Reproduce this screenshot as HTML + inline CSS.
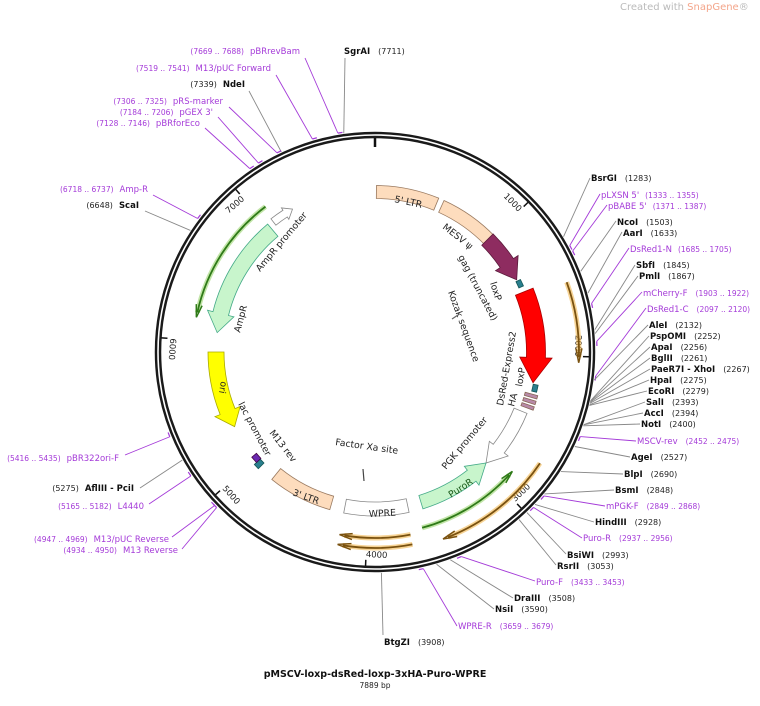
<!DOCTYPE html>
<html><head><meta charset="utf-8"><style>
html,body{margin:0;padding:0;background:#fff;width:760px;height:706px;overflow:hidden}
svg{display:block;font-family:"DejaVu Sans","Liberation Sans",sans-serif}
.p{fill:#a43ad8;font-size:8.5px}
.pn{fill:#a43ad8;font-size:7.5px}
.b{fill:#111;font-size:8.5px;font-weight:bold}
.n{fill:#222;font-size:8px}
.f{fill:#222;font-size:9.3px}
</style></head><body>
<svg id="s" width="760" height="706" viewBox="0 0 760 706" xmlns="http://www.w3.org/2000/svg">
<g id="lines"></g>
<g id="feat"></g>
<text x="620" y="10" style="font-size:10px;fill:#bbb">Created with <tspan fill="#f4a58a">SnapGene</tspan>®</text>

<text x="591" y="181"><tspan class="b">BsrGI</tspan><tspan class="n" dx="8">(1283)</tspan></text>
<text x="601" y="198"><tspan class="p">pLXSN 5'</tspan><tspan class="pn" dx="6">(1333 .. 1355)</tspan></text>
<text x="608" y="209"><tspan class="p">pBABE 5'</tspan><tspan class="pn" dx="6">(1371 .. 1387)</tspan></text>
<text x="617" y="225"><tspan class="b">NcoI</tspan><tspan class="n" dx="8">(1503)</tspan></text>
<text x="623" y="236"><tspan class="b">AarI</tspan><tspan class="n" dx="8">(1633)</tspan></text>
<text x="630" y="252"><tspan class="p">DsRed1-N</tspan><tspan class="pn" dx="6">(1685 .. 1705)</tspan></text>
<text x="636" y="268"><tspan class="b">SbfI</tspan><tspan class="n" dx="8">(1845)</tspan></text>
<text x="639" y="279"><tspan class="b">PmlI</tspan><tspan class="n" dx="8">(1867)</tspan></text>
<text x="643" y="296"><tspan class="p">mCherry-F</tspan><tspan class="pn" dx="8">(1903 .. 1922)</tspan></text>
<text x="647" y="312"><tspan class="p">DsRed1-C</tspan><tspan class="pn" dx="8">(2097 .. 2120)</tspan></text>
<text x="649" y="328"><tspan class="b">AleI</tspan><tspan class="n" dx="8">(2132)</tspan></text>
<text x="650" y="339"><tspan class="b">PspOMI</tspan><tspan class="n" dx="8">(2252)</tspan></text>
<text x="651" y="350"><tspan class="b">ApaI</tspan><tspan class="n" dx="8">(2256)</tspan></text>
<text x="651" y="361"><tspan class="b">BglII</tspan><tspan class="n" dx="8">(2261)</tspan></text>
<text x="651" y="372"><tspan class="b">PaeR7I  - XhoI</tspan><tspan class="n" dx="8">(2267)</tspan></text>
<text x="650" y="383"><tspan class="b">HpaI</tspan><tspan class="n" dx="8">(2275)</tspan></text>
<text x="648" y="394"><tspan class="b">EcoRI</tspan><tspan class="n" dx="8">(2279)</tspan></text>
<text x="646" y="405"><tspan class="b">SalI</tspan><tspan class="n" dx="8">(2393)</tspan></text>
<text x="644" y="416"><tspan class="b">AccI</tspan><tspan class="n" dx="8">(2394)</tspan></text>
<text x="641" y="427"><tspan class="b">NotI</tspan><tspan class="n" dx="8">(2400)</tspan></text>
<text x="637" y="444"><tspan class="p">MSCV-rev</tspan><tspan class="pn" dx="8">(2452 .. 2475)</tspan></text>
<text x="631" y="460"><tspan class="b">AgeI</tspan><tspan class="n" dx="8">(2527)</tspan></text>
<text x="624" y="477"><tspan class="b">BlpI</tspan><tspan class="n" dx="8">(2690)</tspan></text>
<text x="615" y="493"><tspan class="b">BsmI</tspan><tspan class="n" dx="8">(2848)</tspan></text>
<text x="606" y="509"><tspan class="p">mPGK-F</tspan><tspan class="pn" dx="8">(2849 .. 2868)</tspan></text>
<text x="595" y="525"><tspan class="b">HindIII</tspan><tspan class="n" dx="8">(2928)</tspan></text>
<text x="583" y="541"><tspan class="p">Puro-R</tspan><tspan class="pn" dx="8">(2937 .. 2956)</tspan></text>
<text x="567" y="558"><tspan class="b">BsiWI</tspan><tspan class="n" dx="8">(2993)</tspan></text>
<text x="557" y="569"><tspan class="b">RsrII</tspan><tspan class="n" dx="8">(3053)</tspan></text>
<text x="536" y="585"><tspan class="p">Puro-F</tspan><tspan class="pn" dx="8">(3433 .. 3453)</tspan></text>
<text x="514" y="601"><tspan class="b">DraIII</tspan><tspan class="n" dx="8">(3508)</tspan></text>
<text x="495" y="612"><tspan class="b">NsiI</tspan><tspan class="n" dx="8">(3590)</tspan></text>
<text x="458" y="629"><tspan class="p">WPRE-R</tspan><tspan class="pn" dx="8">(3659 .. 3679)</tspan></text>
<text x="384" y="645"><tspan class="b">BtgZI</tspan><tspan class="n" dx="8">(3908)</tspan></text>
<text x="344" y="54"><tspan class="b">SgrAI</tspan><tspan class="n" dx="8">(7711)</tspan></text>

<g text-anchor="end">
<text x="300" y="54"><tspan class="pn">(7669 .. 7688)</tspan><tspan class="p" dx="6">pBRrevBam</tspan></text>
<text x="271" y="71"><tspan class="pn">(7519 .. 7541)</tspan><tspan class="p" dx="6">M13/pUC Forward</tspan></text>
<text x="245" y="87"><tspan class="n">(7339)</tspan><tspan class="b" dx="6">NdeI</tspan></text>
<text x="223" y="104"><tspan class="pn">(7306 .. 7325)</tspan><tspan class="p" dx="6">pRS-marker</tspan></text>
<text x="213" y="115"><tspan class="pn">(7184 .. 7206)</tspan><tspan class="p" dx="6">pGEX 3'</tspan></text>
<text x="200" y="126"><tspan class="pn">(7128 .. 7146)</tspan><tspan class="p" dx="6">pBRforEco</tspan></text>
<text x="148" y="192"><tspan class="pn">(6718 .. 6737)</tspan><tspan class="p" dx="6">Amp-R</tspan></text>
<text x="139" y="208"><tspan class="n">(6648)</tspan><tspan class="b" dx="6">ScaI</tspan></text>
<text x="119" y="461"><tspan class="pn">(5416 .. 5435)</tspan><tspan class="p" dx="6">pBR322ori-F</tspan></text>
<text x="134" y="491"><tspan class="n">(5275)</tspan><tspan class="b" dx="6">AflIII  - PciI</tspan></text>
<text x="144" y="509"><tspan class="pn">(5165 .. 5182)</tspan><tspan class="p" dx="6">L4440</tspan></text>
<text x="169" y="542"><tspan class="pn">(4947 .. 4969)</tspan><tspan class="p" dx="6">M13/pUC Reverse</tspan></text>
<text x="178" y="553"><tspan class="pn">(4934 .. 4950)</tspan><tspan class="p" dx="6">M13 Reverse</tspan></text>
</g>

<g class="f">
<text x="394" y="202" transform="rotate(12 394 202)" style="font-size:9.5px">5' LTR</text>
<text x="442" y="228" transform="rotate(38 442 228)">MESV ψ</text>
<text x="458" y="257" transform="rotate(62 458 257)">gag (truncated)</text>
<text x="490" y="283" transform="rotate(72 490 283)">loxP</text>
<text x="448" y="292" transform="rotate(70 448 292)">Kozak sequence</text>
<text x="503" y="406" transform="rotate(-80 503 406)">DsRed-Express2</text>
<text x="522" y="387" transform="rotate(-80 522 387)">loxP</text>
<text x="514" y="407" transform="rotate(-75 514 407)">HA</text>
<text x="446" y="470" transform="rotate(-50 446 470)">PGK promoter</text>
<text x="451" y="498" transform="rotate(-33 451 498)" style="fill:#1a5a1a">PuroR</text>
<text x="369" y="517" transform="rotate(-3 369 517)">WPRE</text>
<text x="292" y="495" transform="rotate(20 292 495)">3' LTR</text>
<text x="335" y="445" transform="rotate(8 335 445)">Factor Xa site</text>
<text x="269" y="433" transform="rotate(52 269 433)">M13 rev</text>
<text x="238" y="404" transform="rotate(62 238 404)">lac promoter</text>
<text x="221" y="381" transform="rotate(100 221 381)">ori</text>
<text x="240" y="333" transform="rotate(-75 240 333)">AmpR</text>
<text x="260" y="272" transform="rotate(-50 260 272)">AmpR promoter</text>
</g>
<line x1="363" y1="469" x2="364" y2="481" stroke="#444" stroke-width="1.2"/>
<line x1="452" y1="319" x2="458" y2="315" stroke="#666" stroke-width="1.2"/>

<text x="375" y="677" text-anchor="middle" style="font-size:9.5px;font-weight:bold;fill:#111">pMSCV-loxp-dsRed-loxp-3xHA-Puro-WPRE</text>
<text x="375" y="688" text-anchor="middle" style="font-size:7.5px;fill:#222">7889 bp</text>
</svg>
<script>
(function(){
var CX=375,CY=352,R=217,N=7889,NS="http://www.w3.org/2000/svg";
var L=document.getElementById('lines'),F=document.getElementById('feat');
function pt(a,r){a=a*Math.PI/180;return [CX+r*Math.sin(a),CY-r*Math.cos(a)];}
function el(p,t,at){var e=document.createElementNS(NS,t);for(var k in at)e.setAttribute(k,at[k]);p.appendChild(e);return e;}
function ang(bp){return bp/N*360;}
var LL=[[590,178,1283],[600,194,1344,1],[607,205,1379,1],[616,221,1503],[622,232,1633],[629,248,1695,1],[635,265,1845],[638,276,1867],[642,292,1912,1],[646,308,2108,1],[648,325,2132],[649,336,2252],[650,347,2256],[650,358,2261],[650,369,2267],[649,380,2275],[647,391,2279],[645,402,2393],[643,413,2394],[640,424,2400],[636,441,2463,1],[630,457,2527],[623,474,2690],[614,490,2848],[605,506,2858,1],[594,522,2928],[582,538,2946,1],[566,554,2993],[556,565,3053],[535,581,3443,1],[513,598,3508],[494,609,3590],[457,626,3669,1],[383,635,3908],[345,58,7711],
[305,58,7678,1],[276,75,7530,1],[249,91,7339],[229,107,7315,1],[218,117,7195,1],[205,128,7137,1],[153,195,6727,1],[145,211,6648],[125,455,5425,1],[140,488,5275],[149,504,5173,1],[172,537,4958,1],[182,549,4942,1]];
LL.forEach(function(l){var a=ang(l[2]);var q=pt(a,l[3]?222:221);
 var col=l[3]?'#a43ad8':'#888';
 el(L,'line',{x1:l[0],y1:l[1],x2:q[0],y2:q[1],stroke:col,'stroke-width':0.9});
 if(l[3]){var q2=pt(a+1.2,222);el(L,'line',{x1:q[0],y1:q[1],x2:q2[0],y2:q2[1],stroke:col,'stroke-width':1.2});}
});
el(F,'circle',{cx:CX,cy:CY,r:R,fill:'none',stroke:'#1a1a1a','stroke-width':6.5});
el(F,'circle',{cx:CX,cy:CY,r:R,fill:'none',stroke:'#fff','stroke-width':1.6});
var t0=pt(0,R-3),t1=pt(0,R-12);el(F,'line',{x1:t0[0],y1:t0[1],x2:t1[0],y2:t1[1],stroke:'#111','stroke-width':2.5});
[1000,2000,3000,4000,5000,6000,7000].forEach(function(v){var a=ang(v);var p1=pt(a,R-3),p2=pt(a,R-9);
 el(F,'line',{x1:p1[0],y1:p1[1],x2:p2[0],y2:p2[1],stroke:'#111','stroke-width':1.5});
 var p=pt(a-3,R-14);var rot=(a>95&&a<300)?a-180:(a>=300?a-360:a);
 var t=el(F,'text',{x:p[0],y:p[1],'text-anchor':'middle','dominant-baseline':'middle',transform:'rotate('+rot+' '+p[0]+' '+p[1]+')',style:'font-size:8.5px;fill:#222'});t.textContent=String(v);
});
function arrow(a1,a2,r,w,fill,stroke,head){
 var dir=a2>a1?1:-1,hl=head?Math.min(head,Math.abs(a2-a1)*0.6):0;var ab=a2-dir*hl;
 var ri=r-w/2,ro=r+w/2,hw=head?w*0.35:0;
 var A=pt(a1,ro),B=pt(ab,ro),C=pt(ab,ro+hw),T=pt(a2,r),D=pt(ab,ri-hw),E=pt(ab,ri),G=pt(a1,ri);
 var sw=(dir>0)?1:0;
 var d='M'+A+' A'+ro+','+ro+' 0 0 '+sw+' '+B;
 if(head)d+=' L'+C+' L'+T+' L'+D+' L'+E;else d+=' L'+E;
 d+=' A'+ri+','+ri+' 0 0 '+(1-sw)+' '+G+' Z';
 el(F,'path',{d:d,fill:fill,stroke:stroke,'stroke-width':0.8});
}
function line(a1,a2,r,col,glow){
 var dir=a2>a1?1:-1;var A=pt(a1,r),B=pt(a2-dir*1.5,r);var sw=dir>0?1:0;
 var d='M'+A+' A'+r+','+r+' 0 0 '+sw+' '+B;
 el(F,'path',{d:d,fill:'none',stroke:glow,'stroke-width':5,'stroke-opacity':0.55});
 el(F,'path',{d:d,fill:'none',stroke:col,'stroke-width':1.8});
 var T=pt(a2,r),P=pt(a2-dir*4,r+3),Q=pt(a2-dir*4,r-3);
 el(F,'path',{d:'M'+P+' L'+T+' L'+Q,fill:'none',stroke:col,'stroke-width':1.5});
}
var pe='#fddcbd',ps='#9a7a60';
arrow(0.5,22.5,160,13,pe,ps,0);
arrow(24.5,46,160,13,pe,ps,0);
arrow(45,63,159,16,'#8e2c60','#5a1a3a',7);
arrow(63.5,66,160,5,'#2a7f8e','#155',0);
arrow(68,101,161,19,'#ff0000','#a00',9);
arrow(101.5,104,164,5,'#2a7f8e','#155',0);
[105,107,109].forEach(function(a){arrow(a,a+1.2,162,13,'#b88aa8','#865',0);});
arrow(112,135,157,14,'#fff','#888',7);
arrow(163,135,157,14,'#c8f5cc','#4a8',7);
arrow(168,191,157,14,'#fff','#888',0);
arrow(196,219,157,14,pe,ps,0);
arrow(225,227,161,8,'#2a7f8e','#155',0);
arrow(227,229.5,159,6,'#6a2ab0','#404',0);
arrow(270,242,159,16,'#ffff00','#aa0',6);
arrow(320,277,159,16,'#c8f5cc','#4a8',7);
arrow(322,330,165,8,'#fff','#888',3);
line(323,281,182,'#2f7a18','#8fd060');
line(70,93,204,'#7a5210','#f0b040');
line(165,131,182,'#2f7a18','#8fd060');
line(124,160,199,'#7a5210','#f0b040');
line(169,191,186,'#7a5210','#f0b040');
line(169,191,196,'#7a5210','#f0b040');
})();
</script>
</body></html>
